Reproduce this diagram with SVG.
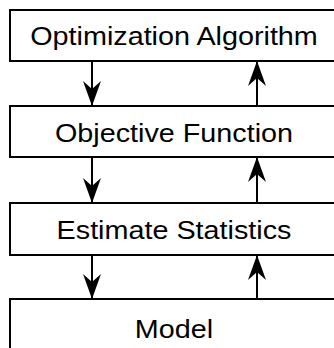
<svg xmlns="http://www.w3.org/2000/svg" width="334" height="348" viewBox="0 0 334 348">
  <defs>
    <style>
      .box { fill: #ffffff; stroke: #000000; stroke-width: 2; }
      .label { font-family: "Liberation Sans", Arial, sans-serif; font-size: 25px; fill: #000000; text-anchor: middle; }
      .link { stroke: #000000; stroke-width: 2; fill: none; }
    </style>
    <marker id="head" markerUnits="userSpaceOnUse" markerWidth="26" markerHeight="18" refX="25" refY="9" orient="auto" overflow="visible">
      <path d="M25,9 L0,0 L8,9 L0,18 Z" fill="#000000"/>
    </marker>
  </defs>
  <rect width="334" height="348" fill="#ffffff"/>

  <g id="optimization-algorithm">
    <rect class="box" x="10" y="10" width="330" height="51"/>
    <text class="label" transform="translate(174,44.5) scale(1.15,1)">Optimization Algorithm</text>
  </g>

  <g id="objective-function">
    <rect class="box" x="10" y="106" width="330" height="51"/>
    <text class="label" transform="translate(174,141.5) scale(1.15,1)">Objective Function</text>
  </g>

  <g id="estimate-statistics">
    <rect class="box" x="10" y="203" width="330" height="52"/>
    <text class="label" transform="translate(174,238.5) scale(1.15,1)">Estimate Statistics</text>
  </g>

  <g id="model">
    <rect class="box" x="10" y="299" width="330" height="60"/>
    <text class="label" transform="translate(174,337.5) scale(1.15,1)">Model</text>
  </g>

  <g id="connectors">
    <line class="link" x1="92" y1="61" x2="92" y2="106" marker-end="url(#head)"/>
    <line class="link" x1="257" y1="106" x2="257" y2="61" marker-end="url(#head)"/>
    <line class="link" x1="92" y1="157" x2="92" y2="203" marker-end="url(#head)"/>
    <line class="link" x1="257" y1="203" x2="257" y2="157" marker-end="url(#head)"/>
    <line class="link" x1="92" y1="255" x2="92" y2="299" marker-end="url(#head)"/>
    <line class="link" x1="257" y1="299" x2="257" y2="255" marker-end="url(#head)"/>
  </g>
</svg>
